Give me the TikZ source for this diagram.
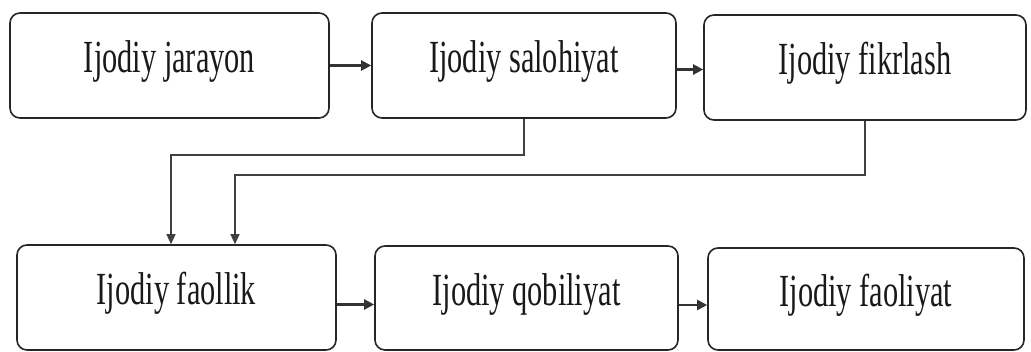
\documentclass[tikz,border=0pt]{standalone}
\usepackage{fontspec}
\newfontfamily\lab[FakeStretch=0.66]{Liberation Serif}
\usetikzlibrary{arrows.meta}
\begin{document}
\begin{tikzpicture}[x=1pt,y=1pt,
  box/.style={draw=black!85, line width=1.6pt, rounded corners=10pt, inner sep=0pt,
    font=\lab\fontsize{46}{50}\selectfont, text height=31pt, text depth=16pt, text=black!90},
  harrow/.style={draw=black!80, line width=2.2pt, -{Triangle[length=10pt,width=10pt]}},
  varrow/.style={draw=black!75, line width=1.3pt, -{Triangle[length=10pt,width=9pt]}}]
\useasboundingbox (0,0) rectangle (1031,351);
\node[box, minimum width=319pt, minimum height=105pt] (b1) at (169.5,285.5) {Ijodiy jarayon};
\node[box, minimum width=304pt, minimum height=105pt] (b2) at (524,285.5) {Ijodiy salohiyat};
\node[box, minimum width=322pt, minimum height=105pt] (b3) at (865,283.5) {Ijodiy fikrlash};
\node[box, minimum width=319pt, minimum height=105pt] (b4) at (176.5,53.5) {Ijodiy faollik};
\node[box, minimum width=303pt, minimum height=104pt] (b5) at (526.5,53) {Ijodiy qobiliyat};
\node[box, minimum width=316pt, minimum height=102pt] (b6) at (866,52) {Ijodiy faoliyat};
\coordinate (j1) at (171,196);
\coordinate (j2) at (235,176);
\draw[harrow] (b1.east) -- (b1.east -| b2.west);
\draw[harrow] ([yshift=-4pt]b2.east) -- ([yshift=-4pt]b2.east -| b3.west);
\draw[harrow] ([yshift=-7pt]b4.east) -- ([yshift=-7pt]b4.east -| b5.west);
\draw[harrow] ([yshift=-7pt]b5.east) -- ([yshift=-7pt]b5.east -| b6.west);
\draw[varrow] (b2.south) |- (j1) -- (j1 |- b4.north);
\draw[varrow] (b3.south) |- (j2) -- (j2 |- b4.north);
\end{tikzpicture}
\end{document}
